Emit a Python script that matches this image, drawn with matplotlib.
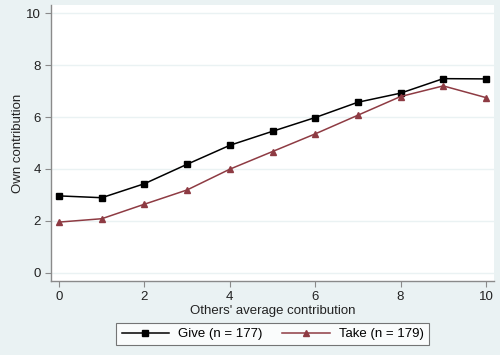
import matplotlib.pyplot as plt

plt.rcParams["font.family"] = ["Liberation Sans", "DejaVu Sans"]

others_avg = [0, 1, 2, 3, 4, 5, 6, 7, 8, 9, 10]
give_own = [2.96, 2.89, 3.43, 4.18, 4.91, 5.45, 5.98, 6.57, 6.92, 7.48, 7.47]
take_own = [1.95, 2.08, 2.64, 3.19, 3.99, 4.67, 5.35, 6.07, 6.79, 7.20, 6.75]
x_ticks = [0, 2, 4, 6, 8, 10]
y_ticks = [0, 2, 4, 6, 8, 10]

BG = "#EAF2F3"
AXIS_GREY = "#8A8A8A"
TAKE_COLOR = "#8E3B43"

fig = plt.figure(figsize=(5, 3.55), dpi=100, facecolor=BG)
ax = fig.add_axes([0.102, 0.2085, 0.886, 0.7775])
ax.set_facecolor("white")

ax.plot(others_avg, give_own, color="black", lw=1.1, marker="s", ms=4.5,
        label="Give (n = 177)")
ax.plot(others_avg, take_own, color=TAKE_COLOR, lw=1.1, marker="^", ms=4.5,
        label="Take (n = 179)")

ax.set_xlim(-0.19, 10.19)
ax.set_ylim(-0.32, 10.32)
ax.set_xticks(x_ticks)
ax.set_yticks(y_ticks)
ax.yaxis.grid(True, color=BG, lw=1)
ax.set_axisbelow(True)

for side in ["top", "right"]:
    ax.spines[side].set_visible(False)
for side in ["left", "bottom"]:
    ax.spines[side].set_color(AXIS_GREY)
    ax.spines[side].set_linewidth(1.0)
ax.tick_params(colors=AXIS_GREY, labelcolor="#222222", labelsize=9.5,
               length=4, width=0.8)

ax.set_xlabel("Others' average contribution", fontsize=9.5, color="#222222", labelpad=1)
ax.set_ylabel("Own contribution", fontsize=9.5, color="#222222", labelpad=1)

leg = ax.legend(loc="upper center", bbox_to_anchor=(0.5, -0.152), ncol=2,
                fontsize=9.5, frameon=True, fancybox=False, handlelength=3.6,
                columnspacing=1.5, borderpad=0.38, handletextpad=0.68,
                borderaxespad=0)
leg.get_frame().set_edgecolor("#555555")
leg.get_frame().set_linewidth(0.8)

fig.savefig("out.png", dpi=100, facecolor=BG)
